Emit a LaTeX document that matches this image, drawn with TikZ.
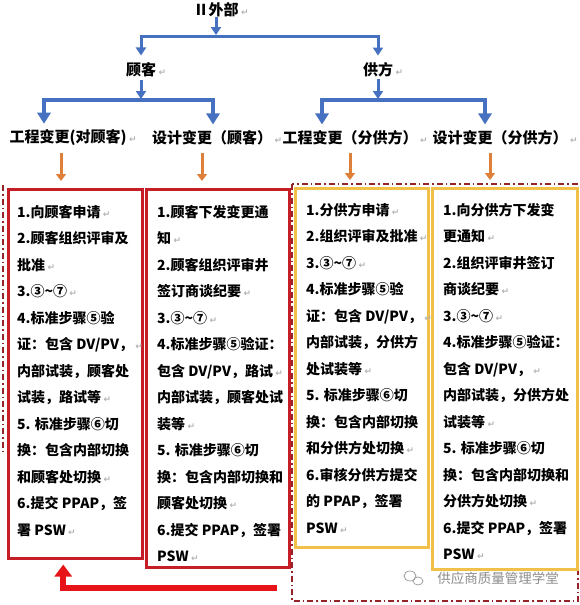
\documentclass[tikz,border=0pt]{standalone}
\usepackage{fontspec}
\setmainfont{Noto Sans CJK SC}
\newfontfamily\symfont{DejaVu Sans}
\usepackage{xcolor}
\usetikzlibrary{arrows.meta,positioning}
\definecolor{ablue}{RGB}{70,112,192}
\definecolor{aorange}{RGB}{222,128,58}
\definecolor{boxred}{RGB}{198,30,38}
\definecolor{boxyel}{RGB}{240,192,72}
\definecolor{dashred}{RGB}{150,35,40}
\definecolor{arrred}{RGB}{230,20,25}
\newcommand\rt{\rlap{\,\color{black!30}\symfont\fontsize{9}{9}\selectfont ↵}}

\begin{document}
\begin{tikzpicture}[x=1pt,y=-1pt,
    lab/.style={font=\bfseries\fontsize{15}{18}\selectfont,inner sep=0pt},
    txt/.style={font=\bfseries\fontsize{14}{26.5}\selectfont,align=left,inner sep=0pt,anchor=north west},
    barrow/.style={draw=ablue,line width=3pt,-{Triangle[width=10pt,length=8pt]}},
    barrowb/.style={draw=ablue,line width=4.5pt,-{Triangle[width=13pt,length=11pt]},shorten >=6pt},
    oarrow/.style={draw=aorange,line width=3pt,-{Triangle[width=10pt,length=7pt]},shorten <=7pt,shorten >=7pt},
    redbox/.style={draw=boxred,line width=2.5pt,anchor=north west,inner sep=0pt},
    yelbox/.style={draw=boxyel,line width=2.5pt,anchor=north west,inner sep=0pt},
    dashdot/.style={draw=dashred,line width=1.5pt,dash pattern=on 6pt off 3pt on 1.5pt off 3pt}]
\useasboundingbox (0,0) rectangle (580,605);

% tree of headings
\node[lab] (top) at (216,10) {Ⅱ外部\rt};
\node[lab] (gk) at (141,70) {顾客\rt};
\node[lab] (gf) at (378,70) {供方\rt};
\node[lab] (l1) at (68,138) {工程变更(对顾客)\rt};
\node[lab] (l2) at (212,138) {设计变更（顾客）\rt};
\node[lab] (l3) at (350,138) {工程变更（分供方）\rt};
\node[lab] (l4) at (500,138) {设计变更（分供方）\rt};

\coordinate (j1) at (216,36);
\coordinate (jk) at (141,100);
\coordinate (jf) at (378,100);
\draw[barrow,shorten >=1pt] (top.south) -- (j1);
\draw[barrow,shorten >=7pt] (j1) -| (gk.north);
\draw[barrow,shorten >=7pt] (j1) -| (gf.north);
\draw[barrow,shorten <=2pt,shorten >=1pt] (gk.south) -- (jk);
\draw[barrow,shorten <=2pt,shorten >=1pt] (gf.south) -- (jf);
\draw[barrowb] (jk) -| ([xshift=-24pt]l1.north);
\draw[barrowb] (jk) -| ([xshift=1pt]l2.north);
\draw[barrowb] (jf) -| ([xshift=-28pt]l3.north);
\draw[barrowb] (jf) -| ([xshift=-15pt]l4.north);

% frames
\draw[dashdot] (292,184) rectangle (578,601);
\draw[dashdot] (3,185) -- (3,452);
\node[redbox,minimum width=134pt,minimum height=369pt] (b1) at (7,188) {};
\node[redbox,minimum width=143pt,minimum height=378pt] (b2) at (145,188) {};
\node[yelbox,minimum width=133pt,minimum height=359pt] (b3) at (294,187) {};
\node[yelbox,minimum width=145pt,minimum height=381pt] (b4) at (431,187) {};

\foreach \n/\s in {1/-7,2/-10,3/0,4/-10}
  \draw[oarrow] ([xshift=\s pt]l\n.south) -- ([xshift=\s pt]l\n.south |- b\n.north);

% step lists
\node[txt] (t1) at ([xshift=10pt,yshift=-17pt]b1.north west) {1.向顾客申请\rt\\
2.顾客组织评审及\\
批准\rt\\
3.③\textasciitilde⑦\rt\\
4.标准步骤⑤验\\
证：包含 DV/PV，\rt\\
内部试装，顾客处\\
试装，路试等\rt\\
5. 标准步骤⑥切\\
换：包含内部切换\\
和顾客处切换\rt\\
6.提交 PPAP，签\\
署 PSW\rt};
\node[txt] (t2) at ([xshift=12pt,yshift=-17pt]b2.north west) {1.顾客下发变更通\\
知\rt\\
2.顾客组织评审井\\
签订商谈纪要\rt\\
3.③\textasciitilde⑦\rt\\
4.标准步骤⑤验证：\\
包含 DV/PV，路试\rt\\
内部试装，顾客处试\\
装等\rt\\
5. 标准步骤⑥切\\
换：包含内部切换和\\
顾客处切换\rt\\
6.提交 PPAP，签署\\
PSW\rt};
\node[txt] (t3) at ([xshift=12pt,yshift=-16pt]b3.north west) {1.分供方申请\rt\\
2.组织评审及批准\rt\\
3.③\textasciitilde⑦\rt\\
4.标准步骤⑤验\\
证：包含 DV/PV，\rt\\
内部试装，分供方\\
处试装等\rt\\
5. 标准步骤⑥切\\
换：包含内部切换\\
和分供方处切换\rt\\
6.审核分供方提交\\
的 PPAP，签署\\
PSW\rt};
\node[txt] (t4) at ([xshift=12pt,yshift=-16pt]b4.north west) {1.向分供方下发变\\
更通知\rt\\
2.组织评审井签订\\
商谈纪要\rt\\
3.③\textasciitilde⑦\rt\\
4.标准步骤⑤验证：\\
包含 DV/PV，\rt\\
内部试装，分供方处\\
试装等\rt\\
5. 标准步骤⑥切\\
换：包含内部切换和\\
分供方处切换\rt\\
6.提交 PPAP，签署\\
PSW\rt};

% back arrow
\coordinate (ra) at (277,588);
\draw[draw=arrred,line width=6pt,-{Triangle[width=17pt,length=12pt]},shorten >=5pt] (ra) -| ([xshift=-12pt]b1.south);

% watermark
\draw[black!40,line width=0.7pt] (410,576) ellipse [x radius=6pt,y radius=5pt];
\draw[black!40,line width=0.7pt] (418,581) ellipse [x radius=5pt,y radius=4pt];
\node[font=\fontsize{13.5}{16}\selectfont,text=black!45,inner sep=0pt] (wm) at (498,578) {供应商质量管理学堂};
\end{tikzpicture}
\end{document}
